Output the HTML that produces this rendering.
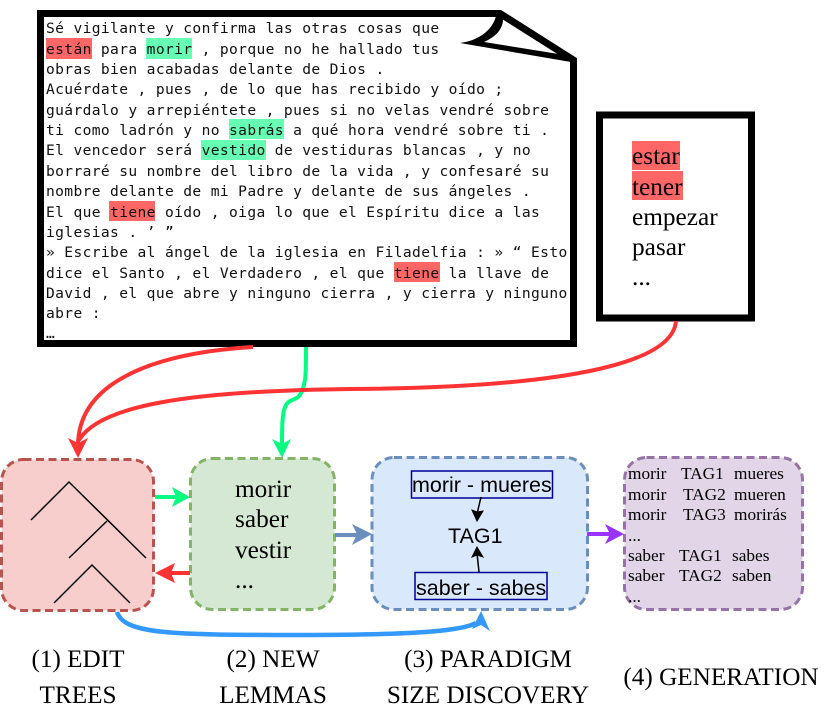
<!DOCTYPE html>
<html><head><meta charset="utf-8"><style>
html,body{margin:0;padding:0;background:#fff;width:830px;height:710px;overflow:hidden}
svg{display:block}
.m{font-family:"DejaVu Sans Mono","Liberation Mono",monospace;font-size:14.6px;letter-spacing:.365px;fill:#111}
.s{font-family:"Liberation Serif",serif;fill:#000}
.w{font-size:25.3px}
.p{font-size:17.3px}
.c{font-size:25.2px;text-anchor:middle}
.a{font-family:"Liberation Sans",sans-serif;font-size:21.5px;fill:#000}
</style></head><body>
<svg width="830" height="710" viewBox="0 0 830 710" xmlns="http://www.w3.org/2000/svg">
<!-- document -->
<path d="M40.500 13.500H500L573.500 60V343.500H40.500Z" fill="#fff" stroke="#000" stroke-width="7"/>
<path d="M460 43C476 41 492 32 496 16L503 16C504 28 497 36 484 42L571 56L571 62Z" fill="#000"/>
<g fill="#ff6666">
<rect x="46" y="38" width="46" height="21"/>
<rect x="109" y="201" width="46" height="20"/>
<rect x="394" y="262" width="46" height="20"/>
</g>
<g fill="#66ffb3">
<rect x="146" y="38" width="46" height="21"/>
<rect x="229" y="119" width="55" height="20"/>
<rect x="201" y="140" width="65" height="20"/>
</g>
<g class="m">
<text x="46" y="33">Sé vigilante y confirma las otras cosas que</text>
<text x="46" y="54">están para morir , porque no he hallado tus</text>
<text x="46" y="74">obras bien acabadas delante de Dios .</text>
<text x="46" y="94">Acuérdate , pues , de lo que has recibido y oído ;</text>
<text x="46" y="115">guárdalo y arrepiéntete , pues si no velas vendré sobre</text>
<text x="46" y="135">ti como ladrón y no sabrás a qué hora vendré sobre ti .</text>
<text x="46" y="155">El vencedor será vestido de vestiduras blancas , y no</text>
<text x="46" y="176">borraré su nombre del libro de la vida , y confesaré su</text>
<text x="46" y="196">nombre delante de mi Padre y delante de sus ángeles .</text>
<text x="46" y="217">El que tiene oído , oiga lo que el Espíritu dice a las</text>
<text x="46" y="237">iglesias . ’ ”</text>
<text x="46" y="257">» Escribe al ángel de la iglesia en Filadelfia : » “ Esto</text>
<text x="46" y="278">dice el Santo , el Verdadero , el que tiene la llave de</text>
<text x="46" y="298">David , el que abre y ninguno cierra , y cierra y ninguno</text>
<text x="46" y="318">abre :</text>
<text x="46" y="338">…</text>
</g>
<!-- word list -->
<rect x="599.500" y="115" width="152" height="203" fill="#fff" stroke="#000" stroke-width="7"/>
<rect x="632" y="141" width="48" height="29" fill="#ff6666"/>
<rect x="632" y="171" width="51" height="29" fill="#ff6666"/>
<g class="s w">
<text x="632" y="164">estar</text>
<text x="632" y="195">tener</text>
<text x="632" y="225">empezar</text>
<text x="632" y="255">pasar</text>
<text x="632" y="285">...</text>
</g>
<!-- connectors top -->
<path d="M306 347C306 372 306 384 301 393C296 403 288 396 284 410C282 418 282 432 282 446" fill="none" stroke="#00ff80" stroke-width="4"/>
<path d="M282 458L272 439L282 444L291 439Z" fill="#00ff80"/>
<path d="M253 347C170 352 78 375 78 446" fill="none" stroke="#ff3333" stroke-width="4"/>
<path d="M676 321C672 372 520 388 350 389C190 391 100 405 79 440" fill="none" stroke="#ff3333" stroke-width="4"/>
<path d="M78 458L68 438L78 443L88 438Z" fill="#ff3333"/>
<!-- boxes -->
<g stroke-width="3" stroke-dasharray="8 4.500">
<rect x="1.500" y="459.500" width="152" height="151" rx="22" fill="#f8cecc" stroke="#b85450"/>
<rect x="190.500" y="458.500" width="144" height="151" rx="22" fill="#d5e8d4" stroke="#82b366"/>
<rect x="372" y="457.500" width="215.500" height="152" rx="22" fill="#dae8fc" stroke="#6c8ebf"/>
<rect x="624.500" y="457.500" width="178" height="152" rx="22" fill="#e1d5e7" stroke="#9673a6"/>
</g>
<!-- tree -->
<g fill="none" stroke="#000" stroke-width="1.500">
<path d="M31 520L69 482L146 558"/>
<path d="M69 558L107 521"/>
<path d="M54 603L92 565L130 603"/>
</g>
<!-- box arrows -->
<path d="M155 497H180" stroke="#00ff80" stroke-width="4"/>
<path d="M190 497L172 487L176 497L172 507Z" fill="#00ff80"/>
<path d="M190 573H165" stroke="#ff3333" stroke-width="4"/>
<path d="M155 573L175 563L171 573L175 583Z" fill="#ff3333"/>
<path d="M335 535H360" stroke="#6c8ebf" stroke-width="4"/>
<path d="M372 534L352 524L357 534L352 545Z" fill="#6c8ebf"/>
<path d="M587 534H612" stroke="#9933ff" stroke-width="4"/>
<path d="M624 534L605 524L610 534L605 544Z" fill="#9933ff"/>
<path d="M117 612C124 634 170 635 300 635C400 635 460 632 476 623" fill="none" stroke="#3399ff" stroke-width="4.500"/>
<path d="M481 611L472 629L481 625L490 631Z" fill="#3399ff"/>
<!-- green text -->
<g class="s w">
<text x="235" y="497">morir</text>
<text x="235" y="527">saber</text>
<text x="235" y="558">vestir</text>
<text x="235" y="588">...</text>
</g>
<!-- blue content -->
<rect x="411.500" y="471" width="141" height="27" fill="none" stroke="#000099" stroke-width="1.500"/>
<rect x="415" y="572.500" width="132" height="27" fill="none" stroke="#000099" stroke-width="1.500"/>
<text class="a" x="412" y="492">morir - mueres</text>
<text class="a" x="416" y="595">saber - sabes</text>
<text class="a" x="448" y="543">TAG1</text>
<path d="M481 497L477 514" stroke="#000" stroke-width="1.500"/>
<path d="M477 521L472 510L477 512L483 511Z" fill="#000" stroke="#000"/>
<path d="M479 572L477 553" stroke="#000" stroke-width="1.500"/>
<path d="M477 547L472 557L477 555L483 557Z" fill="#000" stroke="#000"/>
<!-- purple text -->
<g class="s p">
<text x="628" y="479">morir</text><text x="681" y="479">TAG1</text><text x="734" y="479">mueres</text>
<text x="628" y="500">morir</text><text x="683" y="500">TAG2</text><text x="734" y="500">mueren</text>
<text x="628" y="520">morir</text><text x="683" y="520">TAG3</text><text x="734" y="520">morirás</text>
<text x="628" y="541">...</text>
<text x="628" y="561">saber</text><text x="679" y="561">TAG1</text><text x="732" y="561">sabes</text>
<text x="628" y="581">saber</text><text x="679" y="581">TAG2</text><text x="732" y="581">saben</text>
<text x="628" y="602">...</text>
</g>
<!-- captions -->
<g class="s c">
<text x="78" y="667">(1) EDIT</text>
<text x="78" y="703">TREES</text>
<text x="273" y="667">(2) NEW</text>
<text x="273" y="703">LEMMAS</text>
<text x="488" y="667">(3) PARADIGM</text>
<text x="488" y="703">SIZE DISCOVERY</text>
<text x="721" y="685">(4) GENERATION</text>
</g>
</svg>
</body></html>
